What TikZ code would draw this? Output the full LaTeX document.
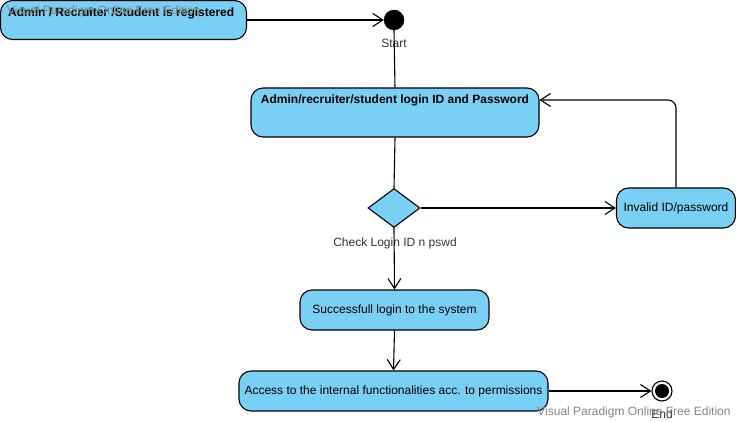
\documentclass[tikz,border=0pt]{standalone}
\usepackage{fontspec}
\setmainfont{Liberation Sans}
\usetikzlibrary{shapes.geometric,arrows.meta}
\definecolor{actfill}{RGB}{122,207,245}
\definecolor{wm}{RGB}{130,130,130}
\tikzset{
  act/.style={draw=black, line width=1.1pt, fill=actfill, rounded corners=12pt, inner sep=0pt, font=\fontsize{12}{14}\selectfont},
  boldtxt/.style={font=\fontsize{12}{14}\selectfont\bfseries, inner sep=0pt},
  lbl/.style={font=\fontsize{12}{14}\selectfont, inner sep=0pt, text=black!80},
  wmark/.style={font=\fontsize{12}{14}\selectfont, inner sep=0pt, text=wm},
  conn/.style={line width=1.1pt, draw=black},
  arr/.style={conn, -{Straight Barb[length=10pt,width=13pt,line width=1.1pt]}},
  dec/.style={diamond, draw=black, line width=1.1pt, fill=actfill, minimum width=52pt, minimum height=39pt, inner sep=0pt, aspect=1.33}
}
\begin{document}
\begin{tikzpicture}[x=1pt,y=-1pt]
\useasboundingbox (0,0) rectangle (736,422);
% nodes
\node[act, minimum width=246pt, minimum height=39pt,
  label={[boldtxt, anchor=north west, xshift=8pt, yshift=-8pt]north west:Admin / Recruiter /Student is registered}] (reg) at (123.5,20) {};
\node[wmark, anchor=west] (wm1) at (7,11) {Visual Paradigm Online Free Edition};
\node[circle, fill=black, draw=black, minimum size=20pt, inner sep=0pt] (start) at (394,20) {};
\node[lbl] (startl) at (394,43) {Start};
\node[act, minimum width=288pt, minimum height=49pt,
  label={[boldtxt, anchor=north, yshift=-7pt]north:Admin/recruiter/student login ID and Password}] (login) at (395,112.5) {};
\node[dec] (chk) at (394,208) {};
\node[lbl] (chkl) at (395,243) {Check Login ID n pswd};
\node[act, minimum width=119pt, minimum height=40pt] (inv) at (676,208) {Invalid ID/password};
\node[act, minimum width=189pt, minimum height=40pt] (succ) at (394.5,310) {Successfull login to the system};
\node[act, minimum width=309pt, minimum height=40pt] (acc) at (393.5,391) {Access to the internal functionalities acc. to permissions};
\node[circle, draw=black, line width=1.1pt, fill=white, minimum size=20pt, inner sep=0pt] (endo) at (662,391) {};
\node[circle, fill=black, minimum size=14pt, inner sep=0pt] (endi) at (endo) {};
\node[lbl] (endl) at (662,414) {End};
\node[wmark] (wm2) at (634,412) {Visual Paradigm Online Free Edition};
% connectors
\draw[arr] (reg.east) -- (start.west);
\draw[conn] (start.south) -- (login.north);
\draw[conn] (login.south) -- (chk.north);
\draw[arr] (chk.east) -- (inv.west);
\draw[arr, rounded corners=8pt] (inv.north) |- ([yshift=12.5pt]login.east);
\draw[arr] (chk.south) -- (succ.north);
\draw[arr] (succ.south) -- (acc.north);
\draw[arr] (acc.east) -- (endo.west);
\end{tikzpicture}
\end{document}
